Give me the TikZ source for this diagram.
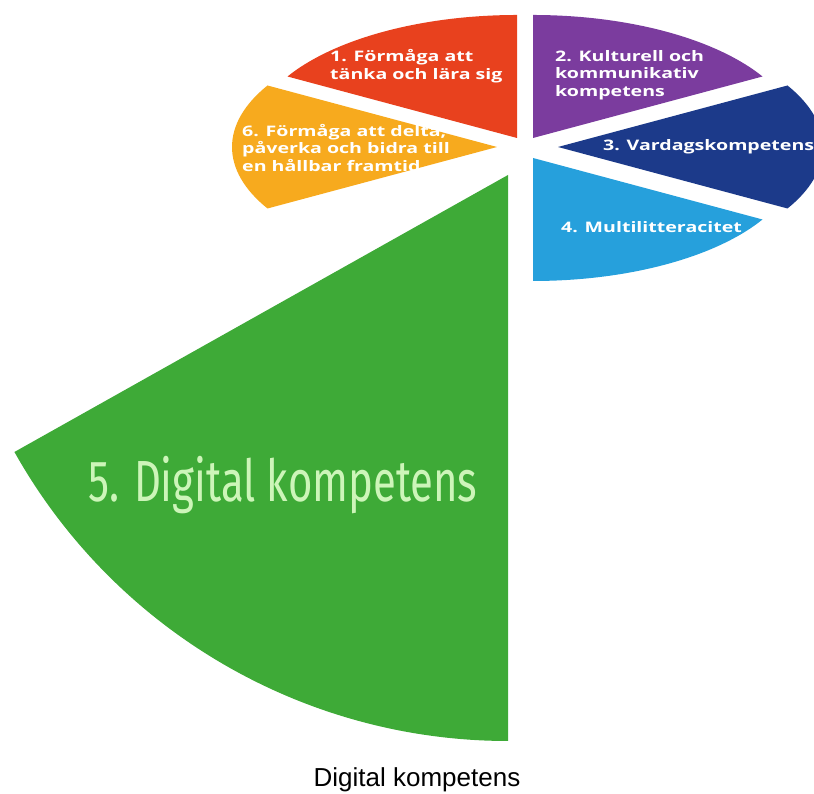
\documentclass[tikz,border=0pt]{standalone}
\usepackage{fontspec}
\setmainfont{Liberation Sans}
\newfontfamily\wedgefont[FakeStretch=1.35]{Open Sans}
\newfontfamily\digfont[FakeStretch=0.722]{Fira Sans}
\usetikzlibrary{positioning}

\definecolor{redw}{RGB}{232,65,30}
\definecolor{purplew}{RGB}{123,60,158}
\definecolor{navyw}{RGB}{28,58,138}
\definecolor{bluew}{RGB}{38,160,220}
\definecolor{yelloww}{RGB}{247,170,30}
\definecolor{greenw}{RGB}{62,170,55}
\definecolor{greentext}{RGB}{205,245,185}

\tikzset{
  wedgetext/.style={anchor=west,inner sep=0pt,align=left,text=white,
    font=\wedgefont\bfseries\fontsize{14.5}{17.5}\selectfont},
  biglabel/.style={anchor=base west,inner sep=0pt,text=greentext,
    font=\digfont\fontsize{58}{60}\selectfont},
  caption/.style={anchor=base,inner sep=0pt,text=black,
    font=\fontsize{26}{29}\selectfont}
}

\begin{document}
\begin{tikzpicture}[line join=round,x=1pt,y=1pt]
\useasboundingbox (0,0) rectangle (814,794);
\clip (0,0) rectangle (814,794);

% apex of each slice
\coordinate (c1) at (517,656);
\coordinate (c2) at (533,656);
\coordinate (c3) at (558,647);
\coordinate (c4) at (533,636);
\coordinate (c5) at (508,619);
\coordinate (c6) at (497,647);

\fill[redw] (c1) -- ++(90:265 and 123) arc[start angle=90,end angle=150,x radius=265,y radius=123] -- cycle;
\fill[purplew] (c2) -- ++(30:265 and 123) arc[start angle=30,end angle=90,x radius=265,y radius=123] -- cycle;
\fill[navyw] (c3) -- ++(-30:265 and 123) arc[start angle=-30,end angle=30,x radius=265,y radius=123] -- cycle;
\fill[bluew] (c4) -- ++(-90:265 and 123) arc[start angle=-90,end angle=-30,x radius=265,y radius=123] -- cycle;
\fill[yelloww] (c6) -- ++(150:265 and 123) arc[start angle=150,end angle=210,x radius=265,y radius=123] -- cycle;
\fill[greenw] (c5) -- ++(0,-566) arc[start angle=270,end angle=209.3,radius=566] -- cycle;

\node[wedgetext] (t1) at (330,728) {1. Förmåga att\\tänka och lära sig};
\node[wedgetext] (t2) at (555,719) {2. Kulturell och\\kommunikativ\\kompetens};
\node[wedgetext] (t3) at (603,647) {3. Vardagskompetens};
\node[wedgetext] (t4) at (561,567) {4. Multilitteracitet};
\node[wedgetext] (t6) at (242,646) {6. Förmåga att delta,\\påverka och bidra till\\en hållbar framtid};
\node[biglabel] (t5) at (88,292) {5. Digital kompetens};

\node[caption] (cap) at (417,7) {Digital kompetens};
\end{tikzpicture}
\end{document}
